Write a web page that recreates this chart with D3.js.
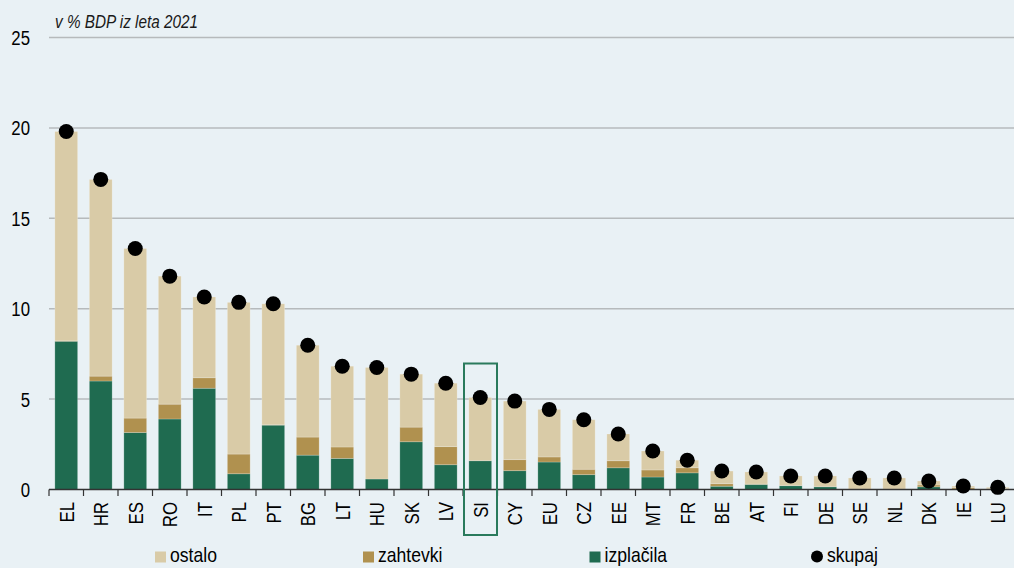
<!DOCTYPE html>
<html>
<head>
<meta charset="utf-8">
<script src="https://cdn.jsdelivr.net/npm/d3@7"></script>
<style>
  html, body { margin: 0; padding: 0; background: #e9f1f5; }
  svg { display: block; font-family: "Liberation Sans", Arial, sans-serif; }
</style>
</head>
<body>
<svg id="chart" width="1014" height="568"></svg>
<script>
// data (% of 2021 GDP)
const countries = ["EL","HR","ES","RO","IT","PL","PT","BG","LT","HU","SK","LV","SI","CY","EU","CZ","EE","MT","FR","BE","AT","FI","DE","SE","NL","DK","IE","LU"];
const izplacila = [8.2, 6.0, 3.15, 3.9, 5.6, 0.87, 3.56, 1.9, 1.72, 0.58, 2.64, 1.37, 1.59, 1.04, 1.52, 0.82, 1.2, 0.69, 0.92, 0.18, 0.28, 0.21, 0.15, 0.02, 0.02, 0.15, 0.03, 0.02];
const zahtevki = [0.02, 0.27, 0.8, 0.82, 0.58, 1.09, 0.02, 1.0, 0.63, 0, 0.81, 1.0, 0, 0.61, 0.28, 0.3, 0.39, 0.39, 0.28, 0.14, 0.02, 0, 0, 0, 0, 0.1, 0.08, 0.02];
const ostalo = [11.58, 10.88, 9.38, 7.08, 4.47, 8.39, 6.69, 5.08, 4.47, 6.17, 2.93, 3.51, 3.5, 3.24, 2.63, 2.74, 1.48, 1.05, 0.42, 0.7, 0.67, 0.54, 0.6, 0.62, 0.62, 0.22, 0.08, 0.08];
const skupaj = [19.8, 17.15, 13.33, 11.8, 10.65, 10.35, 10.27, 7.98, 6.82, 6.75, 6.38, 5.88, 5.09, 4.89, 4.43, 3.86, 3.07, 2.13, 1.62, 1.02, 0.97, 0.75, 0.75, 0.64, 0.64, 0.47, 0.19, 0.12];
const yTicks = [0, 5, 10, 15, 20, 25];
const highlight = "SI";

const colors = { izplacila: "#1f6b50", zahtevki: "#b0914f", ostalo: "#d9cba7" };

const svg = d3.select("#chart");
svg.append("rect").attr("width", 1014).attr("height", 568).attr("fill", "#e9f1f5");

const x = d3.scaleBand().domain(countries).range([49, 1015]).paddingInner(0.34).paddingOuter(0.17);
const y = d3.scaleLinear().domain([0, 25]).range([489.5, 37.5]);
const step = x.step();

// gridlines + y labels
svg.append("g").selectAll("line")
  .data(yTicks.filter(d => d > 0))
  .enter().append("line")
  .attr("x1", 49).attr("x2", 1014)
  .attr("y1", d => y(d)).attr("y2", d => y(d))
  .attr("stroke", "#b6babc").attr("stroke-width", 1.5);

svg.append("g").selectAll("text")
  .data(yTicks)
  .enter().append("text")
  .attr("transform", d => `translate(30,${y(d)}) scale(0.8,1)`)
  .attr("text-anchor", "end")
  .attr("dy", "0.36em")
  .attr("font-size", 21)
  .attr("fill", "#000")
  .text(d => d);

// subtitle
svg.append("text")
  .attr("transform", "translate(55,28) scale(0.85,1)")
  .attr("font-size", 18)
  .attr("font-style", "italic")
  .attr("fill", "#1a1a1a")
  .text("v % BDP iz leta 2021");

// stacked bars
const rows = countries.map((c, i) => ({ country: c, izplacila: izplacila[i], zahtevki: zahtevki[i], ostalo: ostalo[i] }));
const keys = ["izplacila", "zahtevki", "ostalo"];
const series = d3.stack().keys(keys)(rows);

svg.append("g").selectAll("g")
  .data(series)
  .enter().append("g")
  .attr("fill", d => colors[d.key])
  .selectAll("rect")
  .data(d => d)
  .enter().append("rect")
  .attr("x", d => x(d.data.country))
  .attr("width", x.bandwidth())
  .attr("y", d => y(d[1]))
  .attr("height", d => Math.max(0, y(d[0]) - y(d[1])))
  .attr("stroke", "rgba(255,255,255,0.25)")
  .attr("stroke-width", 0.8);

// axis baseline + ticks at band edges
svg.append("line")
  .attr("x1", 49).attr("x2", 1014)
  .attr("y1", y(0)).attr("y2", y(0))
  .attr("stroke", "#333").attr("stroke-width", 1.5);

svg.append("g").selectAll("line")
  .data(countries)
  .enter().append("line")
  .attr("x1", d => x(d) - step * 0.17).attr("x2", d => x(d) - step * 0.17)
  .attr("y1", y(0)).attr("y2", y(0) + 6.5)
  .attr("stroke", "#333").attr("stroke-width", 1.2);

// x labels
svg.append("g").selectAll("text")
  .data(countries)
  .enter().append("text")
  .attr("transform", d => `translate(${x(d) + x.bandwidth() / 2},502) rotate(-90) scale(0.8,1)`)
  .attr("text-anchor", "end")
  .attr("dy", "0.36em")
  .attr("font-size", 21)
  .attr("fill", "#000")
  .text(d => d);

// highlight box round SI
svg.append("rect")
  .attr("x", x(highlight) - step * 0.17 + 1)
  .attr("y", 363.5)
  .attr("width", step - 1.5)
  .attr("height", 171.5)
  .attr("fill", "none")
  .attr("stroke", "#2a7a5c")
  .attr("stroke-width", 2);

// total dots
svg.append("g").selectAll("circle")
  .data(countries)
  .enter().append("circle")
  .attr("cx", d => x(d) + x.bandwidth() / 2)
  .attr("cy", (d, i) => y(skupaj[i]))
  .attr("r", 7.5)
  .attr("fill", "#000");

// legend
const legend = [
  { label: "ostalo", color: colors.ostalo, x: 155, shape: "rect" },
  { label: "zahtevki", color: colors.zahtevki, x: 363, shape: "rect" },
  { label: "izplačila", color: colors.izplacila, x: 589.5, shape: "rect" },
  { label: "skupaj", color: "#000", x: 811, shape: "circle" }
];
const lg = svg.append("g").selectAll("g").data(legend).enter().append("g");
lg.filter(d => d.shape === "rect").append("rect")
  .attr("x", d => d.x).attr("y", 551.5).attr("width", 11).attr("height", 11)
  .attr("fill", d => d.color);
lg.filter(d => d.shape === "circle").append("circle")
  .attr("cx", d => d.x + 6).attr("cy", 556.5).attr("r", 6)
  .attr("fill", d => d.color);
lg.append("text")
  .attr("transform", d => `translate(${d.x + (d.shape === "rect" ? 15 : 16)},562) scale(0.88,1)`)
  .attr("font-size", 20)
  .attr("fill", "#000")
  .text(d => d.label);
</script>
</body>
</html>
